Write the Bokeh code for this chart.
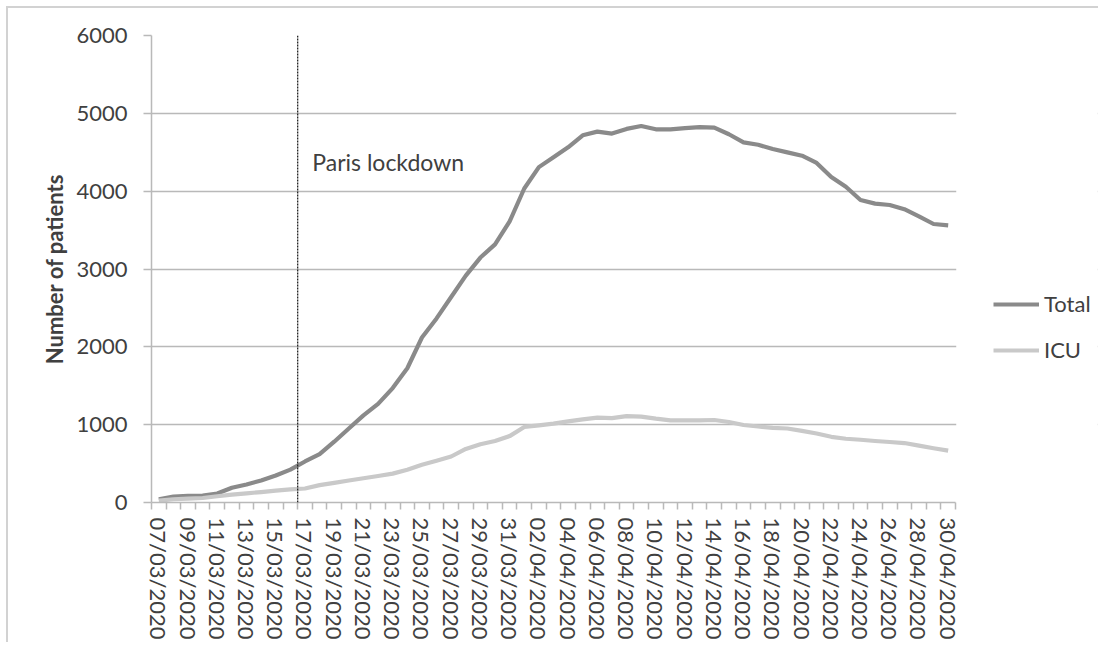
import pandas as pd
from bokeh.plotting import figure
from bokeh.models import (Range1d, FixedTicker, Span, Label, Legend, LegendItem,
                          BoxAnnotation)
from bokeh.embed import file_html
from bokeh.resources import INLINE

# ---- data ----
dates = [d.strftime("%d/%m/%Y") for d in pd.date_range("2020-03-07", "2020-04-30", freq="D")]
total = [40, 76, 84, 89, 115, 190, 232, 283, 346, 422,
         527, 621, 781, 950, 1119, 1267, 1470, 1725, 2120, 2365,
         2640, 2915, 3147, 3316, 3612, 4034, 4309, 4436, 4563, 4718,
         4765, 4740, 4800, 4837, 4795, 4795, 4811, 4824, 4816, 4731,
         4626, 4596, 4541, 4499, 4456, 4363, 4182, 4056, 3886, 3840,
         3822, 3768, 3676, 3578, 3561]
icu = [25, 42, 50, 58, 80, 101, 118, 134, 152, 169,
       180, 223, 253, 283, 312, 340, 371, 422, 485, 536,
       591, 688, 748, 790, 853, 971, 992, 1014, 1043, 1068,
       1090, 1085, 1110, 1103, 1077, 1056, 1056, 1056, 1060, 1034,
       996, 976, 958, 951, 920, 887, 844, 819, 806, 790,
       777, 764, 730, 697, 667]
y_ticks = [0, 1000, 2000, 3000, 4000, 5000, 6000]
series_names = ["Total", "ICU"]
lockdown_text = "Paris lockdown"
y_title = "Number of patients"

idx = list(range(len(dates)))
label_idx = idx[::2]

FONT = "Lato"
TXT = "#404040"
GRID = "#b9b9b9"
W, H = 1098, 642
FRAME_L, FRAME_T, DATA_W, FRAME_H = 151, 35, 804, 473
FRAME_W = W - FRAME_L - 1  # frame extends right so the legend sits inside it

x_start = -0.5
x_data_end = len(dates) - 0.5
x_end = x_start + FRAME_W * (x_data_end - x_start) / DATA_W

p = figure(width=W, height=H, output_backend="svg", toolbar_location=None,
           x_range=Range1d(x_start, x_end), y_range=Range1d(0, 6000),
           min_border_left=FRAME_L, min_border_top=FRAME_T,
           min_border_right=W - FRAME_L - FRAME_W,
           min_border_bottom=H - FRAME_T - FRAME_H)
p.border_fill_color = None
p.background_fill_color = "white"
p.outline_line_color = None
p.styles = {"background": "linear-gradient(#d2d2d2,#d2d2d2) 6px 6px / 2px 100% no-repeat, "
                          "linear-gradient(#d2d2d2,#d2d2d2) 6px 6px / 100% 2px no-repeat, white"}

r_total = p.line(idx, total, line_color="#8a8a8a", line_width=4.2, line_join="round")
r_icu = p.line(idx, icu, line_color="#c9c9c9", line_width=4.2, line_join="round")

# x axis
xa = p.xaxis[0]
xa.bounds = (x_start, x_data_end)
xa.ticker = FixedTicker(ticks=label_idx,
                        minor_ticks=[i - 0.5 for i in range(len(dates) + 1)])
xa.major_label_overrides = {i: dates[i] for i in label_idx}
xa.major_label_orientation = "vertical"
xa.major_tick_line_color = None
xa.major_tick_out = 0
xa.major_tick_in = 0
xa.minor_tick_out = 7
xa.minor_tick_in = 0
xa.minor_tick_line_color = GRID
xa.minor_tick_line_width = 1.5
xa.axis_line_color = GRID
xa.axis_line_width = 1.5
xa.major_label_standoff = 8
xa.major_label_text_font = FONT
xa.major_label_text_font_size = "22px"
xa.major_label_text_color = TXT

# y axis
ya = p.yaxis[0]
ya.ticker = FixedTicker(ticks=y_ticks)
ya.axis_line_color = GRID
ya.axis_line_width = 1.5
ya.major_tick_line_color = GRID
ya.major_tick_line_width = 1.5
ya.major_tick_out = 8
ya.major_tick_in = 0
ya.minor_tick_line_color = None
ya.major_label_standoff = 16
ya.major_label_text_font = FONT
ya.major_label_text_font_size = "22px"
ya.major_label_text_color = TXT
ya.axis_label = y_title
ya.axis_label_text_font = FONT
ya.axis_label_text_font_size = "22px"
ya.axis_label_text_font_style = "bold"
ya.axis_label_text_color = TXT
ya.axis_label_standoff = 5

p.xgrid.grid_line_color = None
p.ygrid.grid_line_color = GRID
p.ygrid.grid_line_width = 1.5

# blank out the grid to the right of the data area (legend zone)
p.add_layout(BoxAnnotation(left=x_data_end + 0.05, fill_color="white", fill_alpha=1,
                           line_color=None, level="underlay"))

# lockdown marker
p.add_layout(Span(location=9.5, dimension="height", line_color="#222222",
                  line_width=1.3, line_dash="2 1"))
p.add_layout(Label(x=10.5, y=4380, text=lockdown_text, text_font=FONT,
                   text_font_size="23px", text_color=TXT,
                   text_baseline="alphabetic"))

legend = Legend(items=[LegendItem(label=series_names[0], renderers=[r_total]),
                       LegendItem(label=series_names[1], renderers=[r_icu])],
                location=(842, 139), orientation="vertical",
                glyph_width=46, glyph_height=26, label_height=26,
                label_standoff=5, spacing=19, padding=0, margin=0,
                border_line_color=None, background_fill_alpha=0,
                label_text_font=FONT, label_text_font_size="22px",
                label_text_color=TXT)
p.add_layout(legend)

open("out.html", "w").write(file_html(p, INLINE))
